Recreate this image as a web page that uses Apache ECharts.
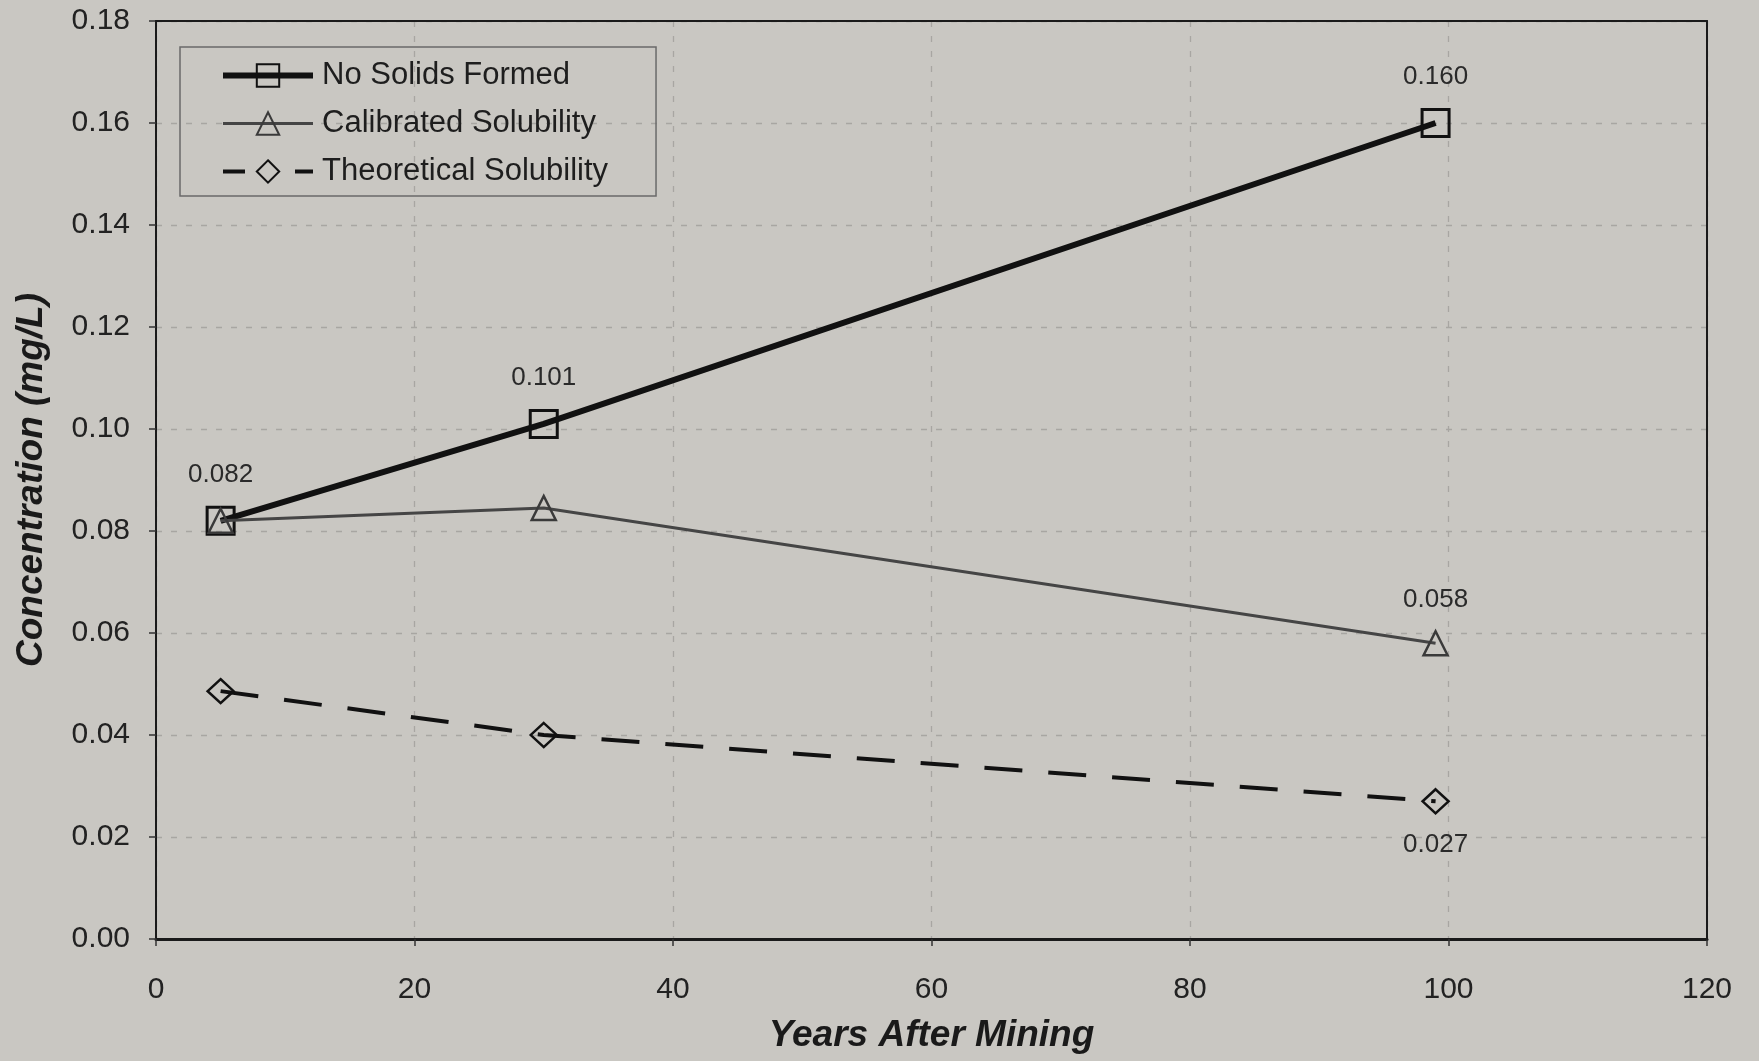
<!DOCTYPE html>
<html>
<head>
<meta charset="utf-8">
<script src="https://cdn.jsdelivr.net/npm/echarts@6/dist/echarts.min.js"></script>
<style>
html,body{margin:0;padding:0;background:#c9c7c2;}
#chart{width:1759px;height:1061px;}
</style>
</head>
<body>
<div id="chart"></div>
<script>
// ---- data ----
const years = [5, 30, 99];
const noSolids = [0.082, 0.101, 0.160];
const calibrated = [0.082, 0.0845, 0.058];
const theoretical = [0.0486, 0.040, 0.027];
const seriesNames = ['No Solids Formed', 'Calibrated Solubility', 'Theoretical Solubility'];
const yTicks = [0, 0.02, 0.04, 0.06, 0.08, 0.10, 0.12, 0.14, 0.16, 0.18];
const xTicks = [0, 20, 40, 60, 80, 100, 120];
// which points carry a value label: [seriesIndex, pointIndex, position]
const labelled = [[0,0,'top'],[0,1,'top'],[0,2,'top'],[1,2,'top'],[2,2,'bottom']];

const font = 'Liberation Sans, Arial, sans-serif';
const bg = '#c9c7c2';

const lineStyles = [
  { color: '#111', width: 6 },
  { color: '#454545', width: 3 },
  { color: '#111', width: 4, type: [38, 26] }
];
const legendLineStyles = [
  { color: '#111', width: 6 },
  { color: '#454545', width: 3 },
  { color: '#111', width: 4, type: [22, 50] }
];

function build(si, xs, ys, dist) {
  return xs.map((x, i) => {
    const item = { value: [x, ys[i]] };
    const l = labelled.find(a => a[0] === si && a[1] === i);
    if (l) {
      item.label = {
        show: true, position: l[2], distance: dist,
        formatter: p => p.value[1].toFixed(3),
        fontFamily: font, fontSize: 26, color: '#2a2a2a'
      };
    }
    return item;
  });
}

const splitStyle = { show: true, lineStyle: { color: '#a8a6a2', width: 1.3, type: [6, 9] } };

const chart = echarts.init(document.getElementById('chart'), null, {renderer: 'canvas'});
chart.setOption({
  backgroundColor: bg,
  animation: false,
  grid: { left: 156, right: 52, top: 21, bottom: 122 },
  legend: {
    orient: 'vertical', left: 180, top: 47,
    data: seriesNames.map((n, i) => ({ name: n, lineStyle: legendLineStyles[i] })),
    itemWidth: 90, itemHeight: 28, itemGap: 15,
    padding: [12, 48, 8, 40],
    borderColor: '#6a6a6a', borderWidth: 1.5, backgroundColor: 'transparent',
    textStyle: { fontFamily: font, fontSize: 31, color: '#1e1e1e', lineHeight: 33, padding: [0,0,0,4] }
  },
  xAxis: [{
    type: 'value', min: 0, max: 120, interval: 20,
    name: 'Years After Mining', nameLocation: 'middle', nameGap: 78,
    nameTextStyle: { fontFamily: font, fontSize: 37, fontStyle: 'italic', fontWeight: 'bold', color: '#1a1a1a' },
    axisLine: { lineStyle: { color: '#1a1a1a', width: 3 } },
    axisTick: { show: true, length: 7, lineStyle: { color: '#333', width: 1.5 } },
    axisLabel: { margin: 36, fontFamily: font, fontSize: 30, color: '#222',
      formatter: v => xTicks.includes(v) ? String(v) : '' },
    splitLine: splitStyle
  }, {
    type: 'value', min: 0, max: 120, interval: 20, position: 'top', z: 20,
    axisLine: { show: true, onZero: false, lineStyle: { color: '#1a1a1a', width: 2 } },
    axisTick: { show: false }, axisLabel: { show: false }, splitLine: { show: false }
  }],
  yAxis: [{
    type: 'value', min: 0, max: 0.18, interval: 0.02,
    name: 'Concentration (mg/L)', nameLocation: 'middle', nameGap: 106,
    nameTextStyle: { fontFamily: font, fontSize: 37, fontStyle: 'italic', fontWeight: 'bold', color: '#1a1a1a' },
    axisLine: { show: true, lineStyle: { color: '#1a1a1a', width: 2 } },
    axisTick: { show: true, length: 7, lineStyle: { color: '#333', width: 1.5 } },
    axisLabel: { margin: 26, fontFamily: font, fontSize: 30, color: '#222',
      formatter: v => { const t = yTicks.find(k => Math.abs(k - v) < 1e-9); return t === undefined ? '' : t.toFixed(2); } },
    splitLine: splitStyle
  }, {
    type: 'value', min: 0, max: 0.18, interval: 0.02, position: 'right', z: 20,
    axisLine: { show: true, onZero: false, lineStyle: { color: '#1a1a1a', width: 2 } },
    axisTick: { show: false }, axisLabel: { show: false }, splitLine: { show: false }
  }],
  series: [
    {
      name: seriesNames[0], type: 'line', z: 3,
      data: build(0, years, noSolids, 18),
      symbol: 'rect', symbolSize: 27,
      lineStyle: lineStyles[0],
      itemStyle: { color: 'rgba(0,0,0,0)', borderColor: '#111', borderWidth: 3 }
    },
    {
      name: seriesNames[1], type: 'line', z: 4,
      data: build(1, years, calibrated, 17),
      symbol: 'triangle', symbolSize: 24,
      lineStyle: lineStyles[1],
      itemStyle: { color: 'rgba(0,0,0,0)', borderColor: '#3a3a3a', borderWidth: 2.5 }
    },
    {
      name: seriesNames[2], type: 'line', z: 2,
      data: build(2, years, theoretical, 17),
      symbol: 'diamond', symbolSize: [26, 24],
      lineStyle: lineStyles[2],
      itemStyle: { color: 'rgba(0,0,0,0)', borderColor: '#111', borderWidth: 2.5 }
    }
  ]
});
</script>
</body>
</html>
